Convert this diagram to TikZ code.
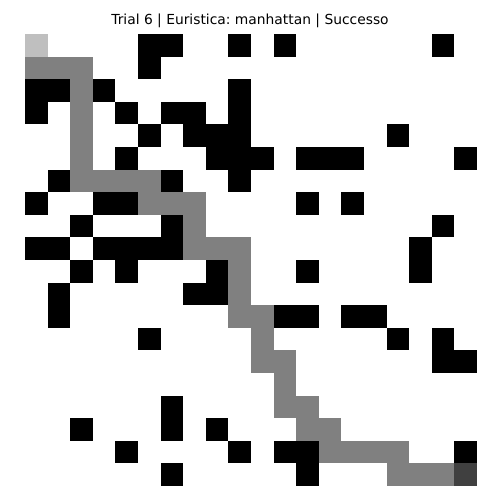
\documentclass[tikz,border=0pt]{standalone}
\usepackage{fontspec}
\setmainfont{DejaVu Sans}
\usepackage{tikz}
\usetikzlibrary{positioning}
\frenchspacing
\definecolor{startgray}{gray}{0.75}
\definecolor{pathgray}{gray}{0.5}
\definecolor{goalgray}{gray}{0.25}
\newcommand{\gridcell}[3]{\fill[#1] ({25+22.6*#2},{34+22.6*#3}) rectangle ++(22.6,22.6);}

\begin{document}
\begin{tikzpicture}[x=0.254mm, y=-0.254mm, every node/.style={font=\fontsize{10}{12}\selectfont}]
\useasboundingbox (0,0) rectangle (500,500);
% obstacles, column/row
\foreach \c/\r in {5/0,6/0,9/0,11/0,18/0, 5/1, 0/2,1/2,3/2,9/2, 0/3,4/3,6/3,7/3,9/3,
  5/4,7/4,8/4,9/4,16/4, 4/5,8/5,9/5,10/5,12/5,13/5,14/5,19/5, 1/6,6/6,9/6,
  0/7,3/7,4/7,12/7,14/7, 2/8,6/8,18/8, 0/9,1/9,3/9,4/9,5/9,6/9,17/9,
  2/10,4/10,8/10,12/10,17/10, 1/11,7/11,8/11, 1/12,11/12,12/12,14/12,15/12,
  5/13,16/13,18/13, 18/14,19/14, 6/16, 2/17,6/17,8/17, 4/18,9/18,11/18,12/18,19/18,
  6/19,12/19}
  {\gridcell{black}{\c}{\r}}
% path found
\foreach \c/\r in {0/1,1/1,2/1,2/2,2/3,2/4,2/5,2/6,3/6,4/6,5/6,5/7,6/7,7/7,7/8,7/9,8/9,9/9,
  9/10,9/11,9/12,10/12,10/13,10/14,11/14,11/15,11/16,12/16,12/17,13/17,13/18,14/18,15/18,16/18,
  16/19,17/19,18/19}
  {\gridcell{pathgray}{\c}{\r}}
% start and goal
\gridcell{startgray}{0}{0}
\gridcell{goalgray}{19}{19}
\node[anchor=base] (title) at (250,25) {Trial 6 | Euristica: manhattan | Successo};
\end{tikzpicture}
\end{document}
